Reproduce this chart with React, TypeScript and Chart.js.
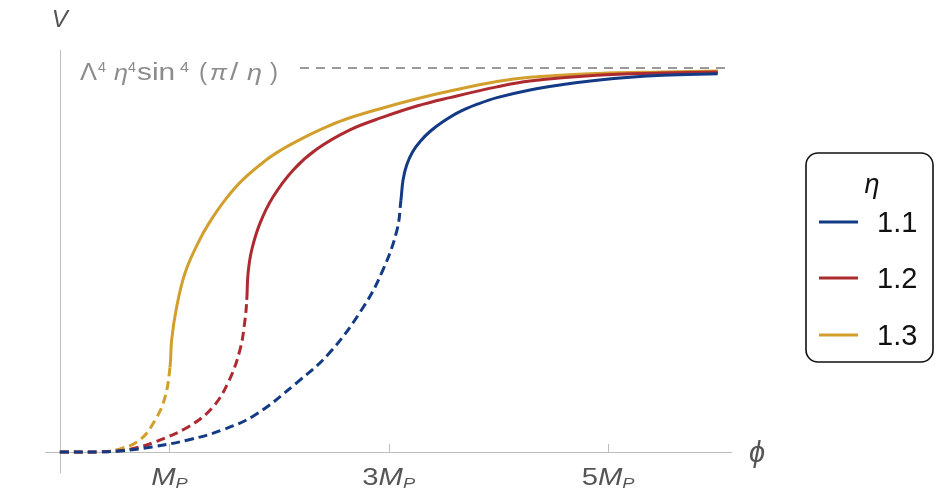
import React, { useEffect, useRef } from 'react';
import { Chart, registerables } from 'chart.js';
Chart.register(...registerables);

// ---- data (phi in units of M_P, V in units of the plateau Λ⁴η⁴sin⁴(π/η)) ----
const etaLabels = ['1.1', '1.2', '1.3'];
const etaColors = ['#133a84', '#ae2a31', '#d29f2d'];

const phi11 = [0, 0.37, 0.57, 0.84, 1.17, 1.48, 1.78, 2.16, 2.46, 2.77, 2.947, 3.075, 3.111, 3.13, 3.164, 3.218, 3.29, 3.381, 3.503, 3.644, 3.815, 3.987, 4.288, 4.589, 4.899, 5.2, 5.501, 6.0];
const v11 = [0, 0.0001, 0.003, 0.013, 0.031, 0.057, 0.096, 0.18, 0.258, 0.378, 0.474, 0.578, 0.656, 0.708, 0.748, 0.782, 0.81, 0.836, 0.862, 0.886, 0.9065, 0.923, 0.943, 0.957, 0.968, 0.976, 0.981, 0.985];
const transition11 = 12;

const phi12 = [0, 0.37, 0.55, 0.69, 0.87, 1.17, 1.39, 1.534, 1.643, 1.689, 1.705, 1.717, 1.75, 1.826, 1.944, 2.127, 2.345, 2.646, 2.947, 3.257, 3.558, 3.987, 4.288, 4.899, 5.497, 6.0];
const v12 = [0, 0.0001, 0.003, 0.01, 0.026, 0.065, 0.115, 0.18, 0.266, 0.344, 0.396, 0.466, 0.526, 0.596, 0.664, 0.734, 0.789, 0.839, 0.872, 0.901, 0.923, 0.951, 0.966, 0.981, 0.987, 0.99];
const transition12 = 10;

const phi13 = [0, 0.37, 0.55, 0.73, 0.87, 0.96, 1.005, 1.02, 1.066, 1.142, 1.26, 1.361, 1.506, 1.665, 1.88, 2.021, 2.185, 2.391, 2.601, 2.947, 3.257, 3.558, 3.987, 4.288, 4.899, 5.497, 6.0];
const v13 = [0, 0.0001, 0.008, 0.031, 0.083, 0.143, 0.221, 0.292, 0.378, 0.466, 0.544, 0.596, 0.656, 0.708, 0.76, 0.787, 0.813, 0.8415, 0.866, 0.896, 0.92, 0.94, 0.965, 0.976, 0.986, 0.99, 0.992];
const transition13 = 6;

const plateauPhi = [2.19, 6.13];
const plateauV = [1, 1];

const xTicks = [1, 3, 5];
const xTickPrefixes = ['', '3', '5'];

const FONT = '"Liberation Sans", Arial, sans-serif';

type Run = { t: string; italic?: boolean; size: number; x0: number; x1: number; dy?: number };

function toPoints(xs: number[], ys: number[]) {
  return xs.map((x, i) => ({ x, y: ys[i] }));
}

function setFont(ctx: CanvasRenderingContext2D, italic: boolean | undefined, size: number) {
  ctx.font = `${italic ? 'italic ' : ''}${size}px ${FONT}`;
}

const decorPlugin = {
  id: 'decor',
  beforeDatasetsDraw(chart: any) {
    const { ctx, scales } = chart;
    const xs = scales.x, ys = scales.y;
    const x0 = xs.getPixelForValue(0);
    const y0 = ys.getPixelForValue(0);
    ctx.save();
    ctx.strokeStyle = '#bdbdbd';
    ctx.lineWidth = 1;
    ctx.beginPath();
    ctx.moveTo(xs.left, Math.round(y0) + 0.5);
    ctx.lineTo(xs.right, Math.round(y0) + 0.5);
    ctx.moveTo(Math.round(x0) + 0.5, ys.top);
    ctx.lineTo(Math.round(x0) + 0.5, ys.bottom);
    ctx.stroke();
    ctx.beginPath();
    for (const t of xTicks) {
      const px = Math.round(xs.getPixelForValue(t)) + 0.5;
      ctx.moveTo(px, y0);
      ctx.lineTo(px, y0 - 8);
    }
    ctx.stroke();
    ctx.restore();
  },
  afterDraw(chart: any) {
    const { ctx, scales } = chart;
    const xs = scales.x, ys = scales.y;
    const y0 = ys.getPixelForValue(0);
    ctx.save();
    ctx.textBaseline = 'alphabetic';
    ctx.textAlign = 'left';
    // tick labels (horizontally stretched like the reference)
    ctx.fillStyle = '#555555';
    const stretch = 1.22;
    xTicks.forEach((t, i) => {
      const parts: { t: string; italic: boolean; size: number; dy: number }[] = [];
      if (xTickPrefixes[i]) parts.push({ t: xTickPrefixes[i], italic: false, size: 24, dy: 0 });
      parts.push({ t: 'M', italic: true, size: 24, dy: 0 });
      parts.push({ t: 'P', italic: true, size: 15, dy: 3 });
      let w = 0;
      for (const p of parts) { setFont(ctx, p.italic, p.size); w += ctx.measureText(p.t).width; }
      const cx = xs.getPixelForValue(t);
      ctx.save();
      ctx.translate(cx - (w * stretch) / 2, y0 + 33);
      ctx.scale(stretch, 1);
      let px = 0;
      for (const p of parts) {
        setFont(ctx, p.italic, p.size);
        ctx.fillText(p.t, px, p.dy);
        px += ctx.measureText(p.t).width;
      }
      ctx.restore();
    });
    // axis names
    setFont(ctx, true, 24);
    ctx.fillText('V', xs.getPixelForValue(0) - 8, 27);
    setFont(ctx, true, 29);
    ctx.fillText('\u03d5', xs.right + 17, y0 + 10);
    // plateau label, each glyph group fitted to its box
    ctx.fillStyle = '#8c8c8c';
    const base = ys.getPixelForValue(1) + 12;
    const s = 23, sup = 15;
    const lab: Run[] = [
      { t: '\u039b', size: s, x0: 80, x1: 97 },
      { t: '4', size: sup, x0: 98, x1: 106, dy: -8 },
      { t: '\u03b7', italic: true, size: s, x0: 114, x1: 128 },
      { t: '4', size: sup, x0: 128, x1: 136, dy: -8 },
      { t: 'sin', size: s, x0: 137, x1: 177 },
      { t: '4', size: sup, x0: 180, x1: 189, dy: -8 },
      { t: '(', size: s, x0: 199, x1: 207 },
      { t: '\u03c0', italic: true, size: s, x0: 210, x1: 227 },
      { t: '/', size: s, x0: 230, x1: 241 },
      { t: '\u03b7', italic: true, size: s, x0: 247, x1: 262 },
      { t: ')', size: s, x0: 270, x1: 278 },
    ];
    for (const r of lab) {
      setFont(ctx, r.italic, r.size);
      const w = ctx.measureText(r.t).width;
      const sx = Math.min(1.3, Math.max(0.9, (r.x1 - r.x0) / w));
      ctx.save();
      ctx.translate(r.x0, base + (r.dy || 0));
      ctx.scale(sx, 1);
      ctx.fillText(r.t, 0, 0);
      ctx.restore();
    }
    // legend
    const lx = 806, ly = 153, lw = 127, lh = 209, rr = 12;
    ctx.strokeStyle = '#111111';
    ctx.lineWidth = 1.6;
    ctx.beginPath();
    ctx.roundRect(lx, ly, lw, lh, rr);
    ctx.stroke();
    ctx.fillStyle = '#111111';
    ctx.textAlign = 'center';
    setFont(ctx, true, 27);
    ctx.fillText('\u03b7', 872, 193);
    ctx.textAlign = 'left';
    const rows = [222, 278, 335];
    etaLabels.forEach((lab2, i) => {
      ctx.strokeStyle = etaColors[i];
      ctx.lineWidth = 3;
      ctx.beginPath();
      ctx.moveTo(819, rows[i]);
      ctx.lineTo(858, rows[i]);
      ctx.stroke();
      ctx.fillStyle = '#111111';
      setFont(ctx, false, 29);
      ctx.fillText(lab2, 877, rows[i] + 10);
    });
    ctx.restore();
  },
};

function curveDataset(phis: number[], vs: number[], trans: number, color: string, label: string) {
  return {
    label,
    data: toPoints(phis, vs),
    borderColor: color,
    borderWidth: 3,
    borderDash: [],
    tension: 0.4,
    pointRadius: 0,
    fill: false,
    segment: {
      borderDash: (c: any) => (c.p1DataIndex <= trans ? [9, 5] : []),
    },
  } as any;
}

export default function App() {
  const ref = useRef<HTMLCanvasElement | null>(null);
  useEffect(() => {
    if (!ref.current) return;
    const chart = new Chart(ref.current, {
      type: 'line',
      data: {
        datasets: [
          curveDataset(phi11, v11, transition11, etaColors[0], etaLabels[0]),
          curveDataset(phi12, v12, transition12, etaColors[1], etaLabels[1]),
          curveDataset(phi13, v13, transition13, etaColors[2], etaLabels[2]),
          {
            label: 'plateau',
            data: toPoints(plateauPhi, plateauV),
            borderColor: '#9a9a9a',
            borderWidth: 2,
            borderDash: [9, 7],
            pointRadius: 0,
            tension: 0,
          } as any,
        ],
      },
      options: {
        animation: false,
        responsive: false,
        maintainAspectRatio: false,
        layout: { padding: { left: 45, right: 206, top: 50, bottom: 27 } },
        plugins: { legend: { display: false }, tooltip: { enabled: false } },
        scales: {
          x: { type: 'linear', min: -0.135, max: 6.13, display: false },
          y: { type: 'linear', min: -0.055, max: 1.047, display: false },
        },
      } as any,
      plugins: [decorPlugin],
    });
    return () => chart.destroy();
  }, []);
  return (
    <div style={{ position: 'absolute', left: 0, top: 0, width: 938, height: 500, background: '#fff' }}>
      <canvas ref={ref} width={938} height={500} style={{ width: 938, height: 500 }} />
    </div>
  );
}
